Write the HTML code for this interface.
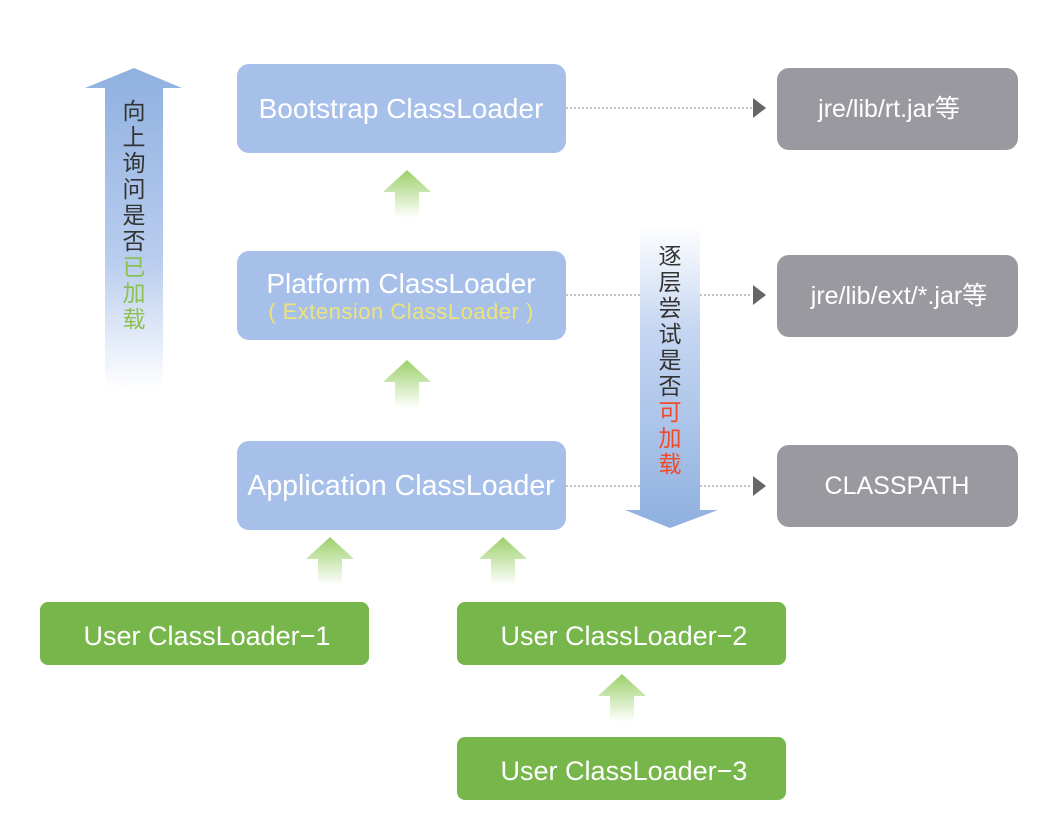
<!DOCTYPE html>
<html><head><meta charset="utf-8"><style>
body{margin:0;background:#fff}
svg text{font-family:"Liberation Sans","Noto Sans CJK SC",sans-serif}
</style></head><body>
<svg width="1064" height="826" viewBox="0 0 1064 826" xmlns="http://www.w3.org/2000/svg">
<defs>
<linearGradient id="up" x1="0" y1="0" x2="0" y2="1">
<stop offset="0" stop-color="#8fb0e0"/><stop offset="0.6" stop-color="#b9cdee"/><stop offset="1" stop-color="#ffffff"/></linearGradient>
<linearGradient id="dn" x1="0" y1="0" x2="0" y2="1">
<stop offset="0" stop-color="#ffffff"/><stop offset="0.35" stop-color="#c5d6f1"/><stop offset="1" stop-color="#8fb0e0"/></linearGradient>
<linearGradient id="gr" x1="0" y1="0" x2="0" y2="1">
<stop offset="0" stop-color="#9ccf6a"/><stop offset="1" stop-color="#ffffff"/></linearGradient>
<g id="ga"><polygon points="0,0 24,22 12,22 12,48 -12,48 -12,22 -24,22" fill="url(#gr)"/></g>
</defs>
<polygon points="134,68 182,88 163,88 163,390 105,390 105,88 85,88" fill="url(#up)"/>
<g font-size="23" text-anchor="middle">
<text x="134" y="119" fill="#333">向</text><text x="134" y="145" fill="#333">上</text>
<text x="134" y="171" fill="#333">询</text><text x="134" y="197" fill="#333">问</text>
<text x="134" y="223" fill="#333">是</text><text x="134" y="249" fill="#333">否</text>
<text x="134" y="275" fill="#8cc152">已</text><text x="134" y="301" fill="#8cc152">加</text>
<text x="134" y="327" fill="#8cc152">载</text>
</g>
<polygon points="640,225 700,225 700,510 718,510 670,528 625,510 640,510" fill="url(#dn)"/>
<g font-size="23" text-anchor="middle">
<text x="670" y="264" fill="#333">逐</text><text x="670" y="290" fill="#333">层</text>
<text x="670" y="316" fill="#333">尝</text><text x="670" y="342" fill="#333">试</text>
<text x="670" y="368" fill="#333">是</text><text x="670" y="394" fill="#333">否</text>
<text x="670" y="420" fill="#f04a2a">可</text><text x="670" y="446" fill="#f04a2a">加</text>
<text x="670" y="472" fill="#f04a2a">载</text>
</g>
<g stroke="#888" stroke-width="1" stroke-dasharray="2,2">
<line x1="566" y1="108" x2="752" y2="108"/>
<line x1="566" y1="295" x2="640" y2="295"/><line x1="700" y1="295" x2="752" y2="295"/>
<line x1="566" y1="486" x2="640" y2="486"/><line x1="700" y1="486" x2="752" y2="486"/>
</g>
<g fill="#666">
<polygon points="753,98 766,108 753,118"/>
<polygon points="753,285 766,295 753,305"/>
<polygon points="753,476 766,486 753,496"/>
</g>
<g fill="#a7c0ea">
<rect x="237" y="64" width="329" height="89" rx="12"/>
<rect x="237" y="251" width="329" height="89" rx="12"/>
<rect x="237" y="441" width="329" height="89" rx="12"/>
</g>
<g font-size="28" fill="#fff" text-anchor="middle">
<text x="401" y="118">Bootstrap ClassLoader</text>
<text x="401" y="293">Platform ClassLoader</text>
<text x="401" y="319" font-size="22" fill="#eee27a" letter-spacing="0.5">( Extension ClassLoader )</text>
<text x="401" y="495" font-size="28.5">Application ClassLoader</text>
</g>
<g fill="#99999f">
<rect x="777" y="68" width="241" height="82" rx="12"/>
<rect x="777" y="255" width="241" height="82" rx="12"/>
<rect x="777" y="445" width="241" height="82" rx="12"/>
</g>
<g font-size="25" fill="#fff" text-anchor="middle">
<text x="889" y="117">jre/lib/rt.jar等</text>
<text x="899" y="304">jre/lib/ext/*.jar等</text>
<text x="897" y="494">CLASSPATH</text>
</g>
<use href="#ga" x="407" y="170"/>
<use href="#ga" x="407" y="360"/>
<use href="#ga" x="330" y="537"/>
<use href="#ga" x="503" y="537"/>
<use href="#ga" x="622" y="674"/>
<g fill="#77b64a">
<rect x="40" y="602" width="329" height="63" rx="8"/>
<rect x="457" y="602" width="329" height="63" rx="8"/>
<rect x="457" y="737" width="329" height="63" rx="8"/>
</g>
<g font-size="27" fill="#fff" text-anchor="middle">
<text x="207" y="645">User ClassLoader−1</text>
<text x="624" y="645">User ClassLoader−2</text>
<text x="624" y="780">User ClassLoader−3</text>
</g>
</svg>
</body></html>
